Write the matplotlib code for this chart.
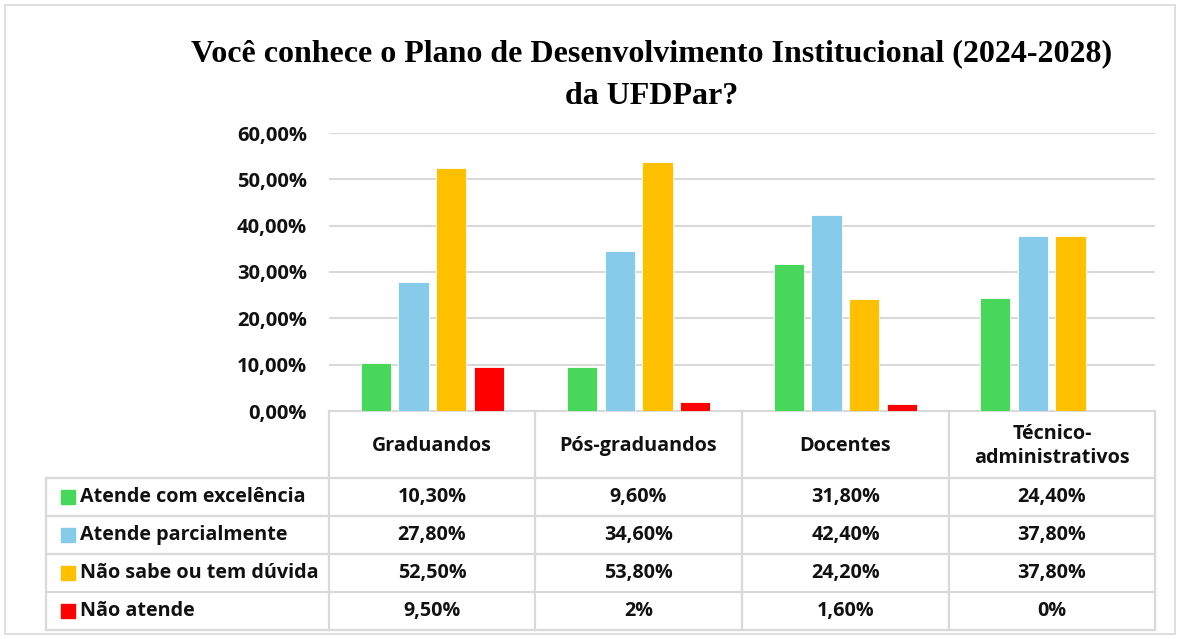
import matplotlib.pyplot as plt
from matplotlib.patches import Rectangle
from matplotlib.lines import Line2D
from matplotlib.ticker import FuncFormatter

categories = ['Graduandos', 'Pós-graduandos', 'Docentes', 'Técnico-\nadministrativos']
series = ['Atende com excelência', 'Atende parcialmente', 'Não sabe ou tem dúvida', 'Não atende']
excelencia = [10.3, 9.6, 31.8, 24.4]
parcialmente = [27.8, 34.6, 42.4, 37.8]
nao_sabe = [52.5, 53.8, 24.2, 37.8]
nao_atende = [9.5, 2.0, 1.6, 0.0]
values = [excelencia, parcialmente, nao_sabe, nao_atende]
colors = ['#47D85B', '#87CBEB', '#FFC000', '#FF0000']

W, H = 1180, 639
fig = plt.figure(figsize=(W / 100, H / 100), dpi=100)

# pixel helpers (origin top-left)
def fx(px):
    return px / W

def fy(py):
    return 1 - py / H

x0, x1 = 329, 1155
y_top, y_bot = 133, 411
ax = fig.add_axes([fx(x0), fy(y_bot), fx(x1) - fx(x0), fy(y_top) - fy(y_bot)])

grid_col = '#d9d9d9'
font = 'Open Sans'
bar_w = 0.146
step = 0.182
for i, (vals, c) in enumerate(zip(values, colors)):
    xs = [k + 0.5 + (i - 1.5) * step for k in range(len(categories))]
    ax.bar(xs, vals, width=bar_w, color=c, edgecolor='white', linewidth=0.6, zorder=3)

ax.set_xlim(0, 4)
ax.set_ylim(0, 60)
ax.set_yticks(range(0, 61, 10))
ax.yaxis.set_major_formatter(FuncFormatter(lambda v, p: f'{v:.2f}%'.replace('.', ',')))
ax.set_xticks([])
ax.grid(axis='y', color=grid_col, linewidth=1.5, zorder=0)
for s in ['top', 'right', 'left']:
    ax.spines[s].set_visible(False)
ax.spines['bottom'].set_color(grid_col)
ax.spines['bottom'].set_linewidth(1.5)
ax.tick_params(axis='y', length=0, pad=16)
for t in ax.get_yticklabels():
    t.set_fontfamily(font)
    t.set_fontweight('bold')
    t.set_fontsize(14.5)
    t.set_color('#111111')

# title
fig.text(fx(652), fy(75), 'Você conhece o Plano de Desenvolvimento Institucional (2024-2028)\nda UFDPar?',
         ha='center', va='center', fontfamily='Liberation Serif', fontweight='bold',
         fontsize=23, linespacing=1.6)

# data table
bounds = [329, 535, 742, 949, 1155]
row_lines = [478, 516, 554, 592, 630]
left = 46
lw = 1.6
def hline(py, xa, xb):
    fig.add_artist(Line2D([fx(xa), fx(xb)], [fy(py), fy(py)], color=grid_col, lw=lw))

def vline(px, ya, yb):
    fig.add_artist(Line2D([fx(px), fx(px)], [fy(ya), fy(yb)], color=grid_col, lw=lw))

for py in row_lines:
    hline(py, left, x1)
for px in bounds:
    vline(px, y_bot, 630)
vline(left, 478, 630)

txt_kw = dict(fontfamily=font, fontweight='bold', fontsize=14.2, color='#111111')
for k, cat in enumerate(categories):
    cx = (bounds[k] + bounds[k + 1]) / 2
    fig.text(fx(cx), fy(446), cat, ha='center', va='center', linespacing=1.25, **txt_kw)

def fmt(v):
    if v == int(v):
        return f'{int(v)}%'
    return f'{v:.2f}%'.replace('.', ',')

for i, (name, vals, c) in enumerate(zip(series, values, colors)):
    cy = (row_lines[i] + row_lines[i + 1]) / 2
    fig.add_artist(Rectangle((fx(61), fy(cy + 7)), fx(14), 14 / H, color=c))
    fig.text(fx(80), fy(cy), name, ha='left', va='center', **txt_kw)
    for k, v in enumerate(vals):
        cx = (bounds[k] + bounds[k + 1]) / 2
        fig.text(fx(cx), fy(cy), fmt(v), ha='center', va='center', **txt_kw)

# outer border
fig.add_artist(Rectangle((fx(5), fy(634)), fx(1170), 629 / H, fill=False,
                         edgecolor=grid_col, lw=1.2))

plt.savefig('out.png', dpi=100)
plt.close()
